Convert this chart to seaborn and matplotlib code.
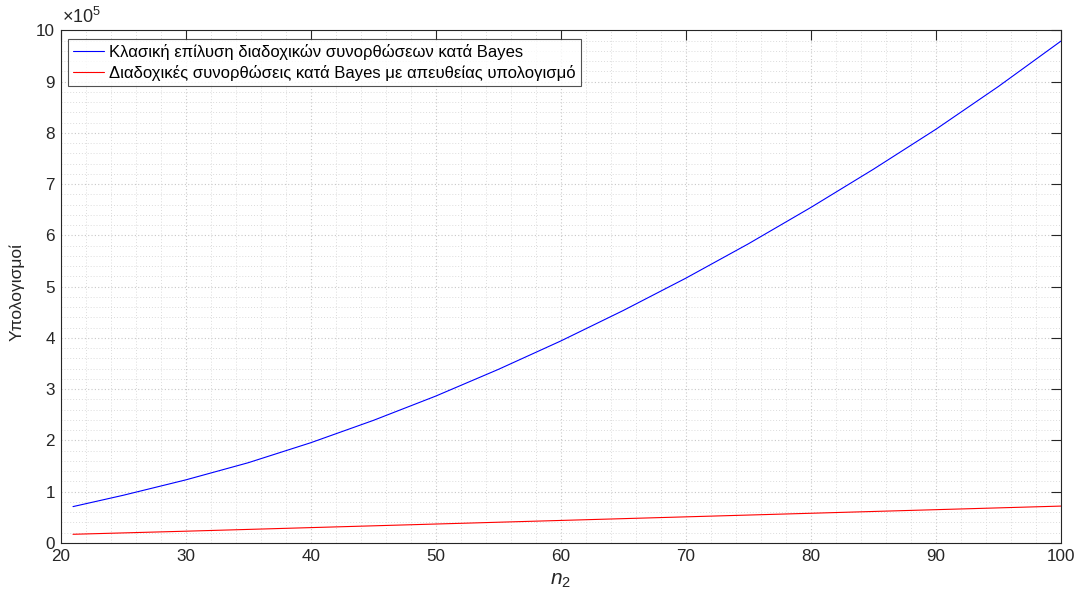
import numpy as np
import pandas as pd
import matplotlib
matplotlib.use("Agg")
import matplotlib.pyplot as plt
from matplotlib.ticker import MultipleLocator, FuncFormatter
import seaborn as sns

# Problem size n2 and the number of computations for each method
n2 = [21, 25, 30, 35, 40, 45, 50, 55, 60, 65, 70, 75, 80, 85, 90, 95, 100]
classic_ops = [71000, 93000, 123000, 156500, 195500, 239000, 286500, 338500,
               394000, 453500, 516500, 583500, 654500, 729000, 807000, 890500, 979000]
direct_n2 = [21, 30, 40, 50, 60, 70, 80, 90, 100]
direct_ops = [17000, 23000, 30000, 37000, 44000, 51000, 58000, 65000, 72000]

label_classic = "Κλασική επίλυση διαδοχικών συνορθώσεων κατά Bayes"
label_direct = "Διαδοχικές συνορθώσεις κατά Bayes με απευθείας υπολογισμό"

df = pd.concat([
    pd.DataFrame({"n2": n2, "ops": classic_ops, "method": label_classic}),
    pd.DataFrame({"n2": direct_n2, "ops": direct_ops, "method": label_direct}),
], ignore_index=True)

sns.set_theme(style="white")
plt.rcParams["font.family"] = ["Liberation Sans", "DejaVu Sans"]
plt.rcParams["mathtext.fontset"] = "custom"
plt.rcParams["mathtext.rm"] = "Liberation Sans"
plt.rcParams["mathtext.it"] = "Liberation Sans:italic"

dark = "#262626"
fig = plt.figure(figsize=(10.8, 6.02), dpi=100)
ax = fig.add_axes([60.5 / 1080, 59 / 602, (1061 - 60.5) / 1080, (543 - 30.3) / 602])

sns.lineplot(data=df, x="n2", y="ops", hue="method",
             palette={label_classic: "#0000ff", label_direct: "#ff0000"},
             linewidth=0.8, ax=ax, sort=False, estimator=None)

ax.set_xlim(20, 100)
ax.set_ylim(0, 1e6)
ax.xaxis.set_major_locator(MultipleLocator(10))
ax.xaxis.set_minor_locator(MultipleLocator(2))
ax.yaxis.set_major_locator(MultipleLocator(1e5))
ax.yaxis.set_minor_locator(MultipleLocator(2e4))
ax.yaxis.set_major_formatter(FuncFormatter(lambda v, p: f"{v / 1e5:g}"))

ax.grid(True, which="major", linestyle=(0, (1, 2)), color="#c8c8c8", linewidth=0.8)
ax.grid(True, which="minor", linestyle=(0, (1, 2)), color="#dcdcdc", linewidth=0.7)
ax.set_axisbelow(True)

ax.tick_params(which="major", direction="in", length=7.5, width=0.8, color=dark,
               labelsize=12.3, labelcolor=dark, top=True, right=True, pad=4)
ax.tick_params(which="minor", length=0, top=True, right=True)
for s in ax.spines.values():
    s.set_color(dark)
    s.set_linewidth(0.8)

ax.set_xlabel("$n_2$", fontsize=15, color=dark, labelpad=5)
ax.set_ylabel("Υπολογισμοί", fontsize=12.5, color=dark)
ax.yaxis.set_label_coords(-0.0355, 0.49)

ax.text(0.0015, 1.006, r"$\times10^{5}$", transform=ax.transAxes, fontsize=13,
        color=dark, ha="left", va="bottom")

leg = ax.legend(loc="upper left", bbox_to_anchor=(0.0078, 0.9825), fontsize=12,
                frameon=True, fancybox=False, edgecolor=dark, borderpad=0.3,
                handlelength=1.85, handletextpad=0.3, labelspacing=0.3,
                borderaxespad=0.0, title=None)
leg.get_frame().set_linewidth(0.8)
for t in leg.get_texts():
    t.set_color("black")

fig.savefig("out.png", dpi=100, facecolor="white")
